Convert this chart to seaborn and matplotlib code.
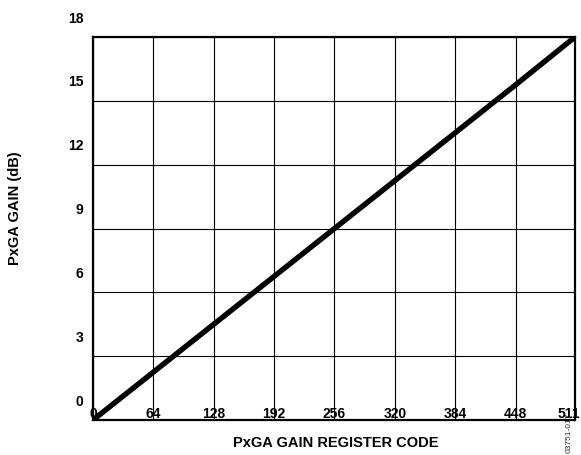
import numpy as np
import pandas as pd
import seaborn as sns
import matplotlib.pyplot as plt
import matplotlib.transforms as mtransforms


codigo = [0, 64, 128, 192, 256, 320, 384, 448, 511]
ganho_db = [0.0, 2.25, 4.5, 6.75, 9.0, 11.25, 13.5, 15.75, 18.0]
x_ticks = [0, 64, 128, 192, 256, 320, 384, 448, 511]
y_ticks = [0, 3, 6, 9, 12, 15, 18]

df = pd.DataFrame({"codigo": codigo, "ganho": ganho_db})

sns.set_style("white")
plt.rcParams["font.family"] = ["Liberation Sans", "DejaVu Sans"]
plt.rcParams["font.weight"] = "bold"
plt.rcParams["text.color"] = "black"
plt.rcParams["xtick.color"] = "black"
plt.rcParams["ytick.color"] = "black"

fig = plt.figure(figsize=(5.81, 4.55), dpi=100)
ax = fig.add_axes([93 / 581, 1 - 420 / 455, (575 - 93) / 581, (420 - 37) / 455])

sns.lineplot(x="codigo", y="ganho", data=df, ax=ax, color="black", linewidth=3.9,
             solid_capstyle="butt", zorder=5)

ax.set_xlim(0, 511)
ax.set_ylim(0, 18)
ax.set_xticks(x_ticks)
ax.set_yticks(y_ticks)
ax.set_xticklabels([str(t) for t in x_ticks], fontsize=10, fontweight="bold", color="black")
ax.set_yticklabels([str(t) for t in y_ticks], fontsize=10, fontweight="bold", color="black")
ax.grid(True, color="black", linewidth=0.8)
ax.tick_params(length=0, pad=7)

# rotulos deslocados como no original
desl_x = mtransforms.ScaledTranslation(0, 23 / 100, fig.dpi_scale_trans)
labs = ax.get_xticklabels()
for lab in labs:
    lab.set_transform(lab.get_transform() + desl_x)
labs[-1].set_transform(labs[-1].get_transform()
                       + mtransforms.ScaledTranslation(-6 / 100, 0, fig.dpi_scale_trans))
desl_y = mtransforms.ScaledTranslation(0, 20 / 100, fig.dpi_scale_trans)
for lab in ax.get_yticklabels():
    lab.set_transform(lab.get_transform() + desl_y)

for s in ax.spines.values():
    s.set_color("black")
    s.set_linewidth(1.6)

ax.set_xlabel("")
ax.set_ylabel("")
fig.text(336 / 581, 1 - 443 / 455, "PxGA GAIN REGISTER CODE", ha="center", va="center",
         fontsize=10.5, fontweight="bold")
fig.text(15 / 581, 1 - 208 / 455, "PxGA GAIN (dB)", ha="center", va="center",
         rotation=90, fontsize=10.5, fontweight="bold")
fig.text(569 / 581, 1 - 433 / 455, "03751-017", ha="center", va="center",
         rotation=90, fontsize=6, fontweight="normal", color="#333333")

plt.savefig("out.png", dpi=100)
